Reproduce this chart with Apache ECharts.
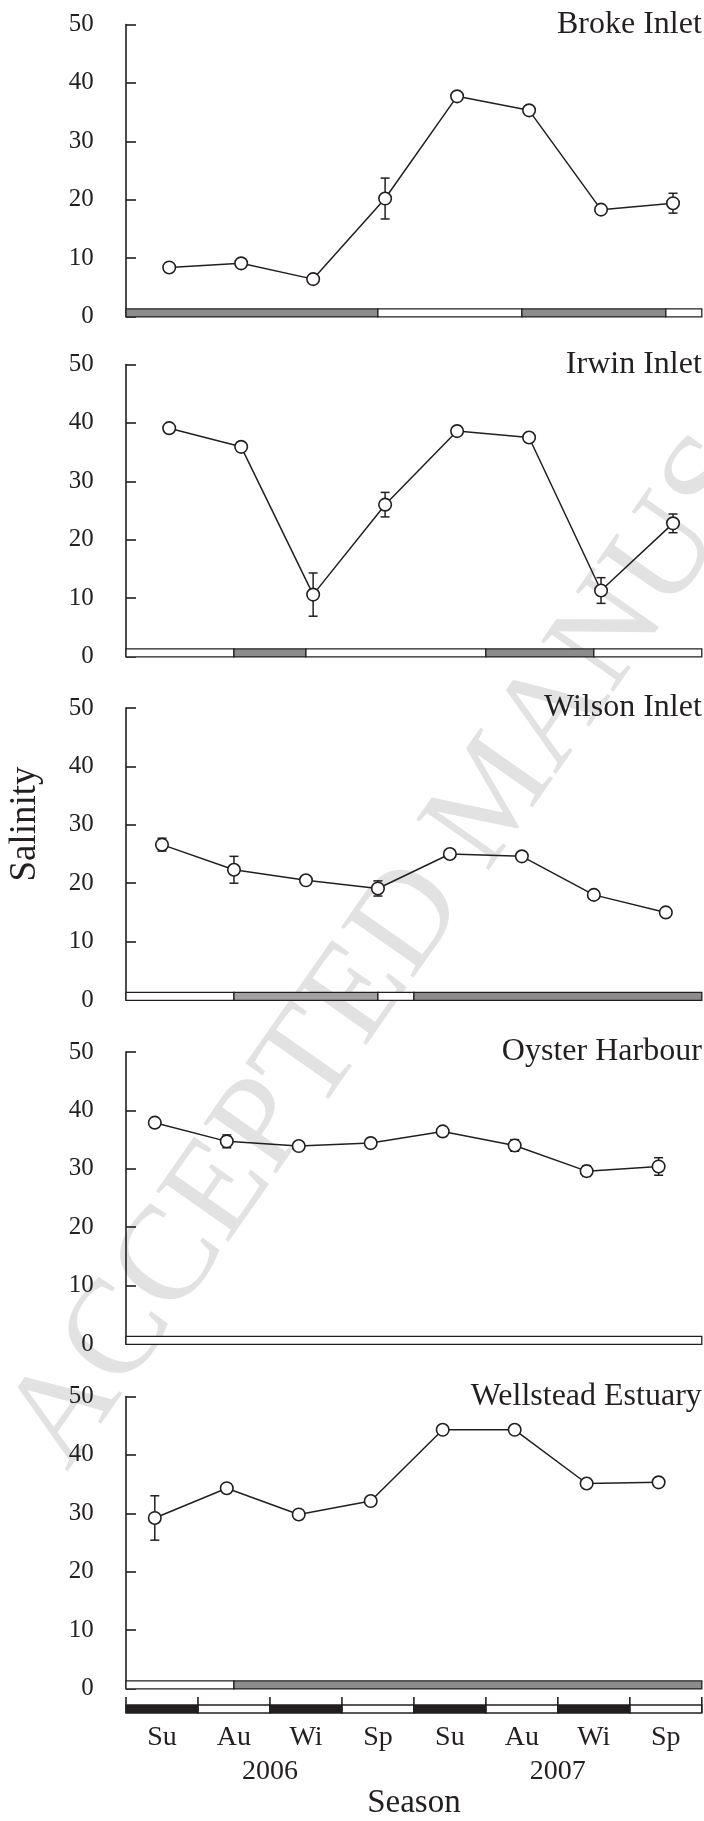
<!DOCTYPE html>
<html><head><meta charset="utf-8">
<script src="https://cdn.jsdelivr.net/npm/echarts@6/dist/echarts.min.js"></script>
<style>html,body{margin:0;padding:0;background:#fff}#c{width:704px;height:1821px}</style>
</head><body><div id="c"></div>
<script>
// ---------- data ----------
const seasons = ['Su','Au','Wi','Sp','Su','Au','Wi','Sp'];
const seasonShade = ['dark','light','dark','light','dark','light','dark','light'];
const years = ['2006','2007'];
const estuaries = ['Broke Inlet','Irwin Inlet','Wilson Inlet','Oyster Harbour','Wellstead Estuary'];
const yTicks = [0, 10, 20, 30, 40, 50];

const brokeMean = [8.4, 9.1, 6.4, 20.2, 37.7, 35.3, 18.3, 19.4];
const brokeErr  = [0, 0, 0, 3.5, 0, 0, 0, 1.7];
const irwinMean = [39.1, 35.9, 10.6, 26.0, 38.6, 37.5, 11.3, 22.8];
const irwinErr  = [0, 0, 3.7, 2.1, 0, 0, 2.2, 1.6];
const wilsonMean = [26.6, 22.3, 20.5, 19.1, 25.0, 24.6, 18.0, 15.0];
const wilsonErr  = [1.1, 2.3, 0, 1.3, 0, 0, 0, 0];
const oysterMean = [37.9, 34.7, 33.9, 34.4, 36.4, 34.0, 29.6, 30.4];
const oysterErr  = [0, 1.1, 0, 0, 0, 1.0, 0.9, 1.5];
const wellsteadMean = [29.2, 34.3, 29.8, 32.1, 44.3, 44.3, 35.1, 35.3];
const wellsteadErr  = [3.8, 0.4, 0, 0, 0, 0.6, 0, 0.5];

// mouth status segments [start season index, end season index, state]  o=open, p=partially closed, c=closed
const brokeMouth = [[0, 3.5, 'c'], [3.5, 5.5, 'o'], [5.5, 7.5, 'c'], [7.5, 8, 'o']];
const irwinMouth = [[0, 1.5, 'o'], [1.5, 2.5, 'c'], [2.5, 5, 'o'], [5, 6.5, 'c'], [6.5, 8, 'o']];
const wilsonMouth = [[0, 1.5, 'o'], [1.5, 3.5, 'p'], [3.5, 4, 'o'], [4, 8, 'c']];
const oysterMouth = [[0, 8, 'o']];
const wellsteadMouth = [[0, 1.5, 'o'], [1.5, 8, 'c']];

const means = [brokeMean, irwinMean, wilsonMean, oysterMean, wellsteadMean];
const errs = [brokeErr, irwinErr, wilsonErr, oysterErr, wellsteadErr];
const mouths = [brokeMouth, irwinMouth, wilsonMouth, oysterMouth, wellsteadMouth];

// ---------- layout / style ----------
const INK = '#231f20';
const FONT = "'Liberation Serif', 'Times New Roman', serif";
const gridTops = [24.5, 364.5, 708, 1052, 1396.5];
const gridH = 292;
const gridLeft = 126, gridRight = 2.2;
const pointShift = [0.1, 0.1, 0, -0.1, -0.1];
const stateFill = { o: '#ffffff', p: '#a2a2a2', c: '#8c8c8c' };

const grid = [], xAxis = [], yAxis = [], series = [], title = [];

function errRender(params, api) {
  const x = api.value(0), lo = api.value(1), hi = api.value(2);
  const a = api.coord([x, hi]), b = api.coord([x, lo]);
  const w = 4.5, st = { stroke: INK, lineWidth: 1.5 };
  return { type: 'group', children: [
    { type: 'line', shape: { x1: a[0], y1: a[1], x2: b[0], y2: b[1] }, style: st },
    { type: 'line', shape: { x1: a[0] - w, y1: a[1], x2: a[0] + w, y2: a[1] }, style: st },
    { type: 'line', shape: { x1: b[0] - w, y1: b[1], x2: b[0] + w, y2: b[1] }, style: st }
  ]};
}

estuaries.forEach((name, g) => {
  grid.push({ left: gridLeft, right: gridRight, top: gridTops[g], height: gridH, outerBoundsMode: 'none', containLabel: false });
  // band axis (season boundaries 0..8)
  xAxis.push({ type: 'value', gridIndex: g, min: 0, max: 8, show: false });
  // point axis (season index, shifted per panel)
  xAxis.push({ type: 'value', gridIndex: g, min: -0.5 - pointShift[g], max: 7.5 - pointShift[g], show: false });
  yAxis.push({
    type: 'value', gridIndex: g, min: yTicks[0], max: yTicks[yTicks.length - 1], interval: 10, offset: 15.3,
    axisLine: { show: true, lineStyle: { color: INK, width: 1.6 } },
    axisTick: { show: true, inside: true, length: 10, lineStyle: { color: INK, width: 1.6 } },
    axisLabel: { margin: 17, fontFamily: FONT, fontSize: 25, color: INK },
    splitLine: { show: false }
  });
  title.push({
    text: name, right: gridRight, top: gridTops[g] - 16, padding: 0,
    textStyle: { fontFamily: FONT, fontSize: 32, fontWeight: 'normal', color: INK }
  });
  const segs = mouths[g];
  series.push({
    type: 'custom', xAxisIndex: 2 * g, yAxisIndex: g, silent: true, z: 2,
    data: segs.map(s => [s[0], 0, s[1]]),
    encode: { x: [0, 2], y: 1 },
    renderItem: (params, api) => {
      const p0 = api.coord([api.value(0), 0]);
      const p1 = api.coord([api.value(2), 0]);
      return { type: 'rect', shape: { x: p0[0], y: p0[1] - 7.6, width: p1[0] - p0[0], height: 8 },
        style: { fill: stateFill[segs[params.dataIndex][2]], stroke: INK, lineWidth: 1.3 } };
    }
  });
  const m = means[g], e = errs[g];
  series.push({
    type: 'custom', xAxisIndex: 2 * g + 1, yAxisIndex: g, silent: true, z: 3,
    data: m.map((v, i) => [i, v - e[i], v + e[i]]).filter((d, i) => e[i] > 0),
    encode: { x: 0, y: [1, 2] },
    renderItem: errRender
  });
  series.push({
    type: 'line', xAxisIndex: 2 * g + 1, yAxisIndex: g, silent: true, z: 4,
    data: m.map((v, i) => [i, v]),
    symbol: 'circle', symbolSize: 12.5, showSymbol: true,
    itemStyle: { color: '#ffffff', borderColor: INK, borderWidth: 1.6 },
    lineStyle: { color: INK, width: 1.5 }
  });
});

// season strip grid
const sg = estuaries.length;
grid.push({ left: gridLeft, right: gridRight, top: 1697, height: 16, outerBoundsMode: 'none', containLabel: false });
xAxis.push({ type: 'value', gridIndex: sg, min: 0, max: 8, show: false });
xAxis.push({
  type: 'category', gridIndex: sg, position: 'bottom', data: seasons, boundaryGap: true,
  axisLine: { show: false }, axisTick: { show: false }, splitLine: { show: false },
  axisLabel: { margin: 11, fontFamily: FONT, fontSize: 28, color: INK, interval: 0 }
});
xAxis.push({
  type: 'category', gridIndex: sg, position: 'bottom', data: years, boundaryGap: true,
  axisLine: { show: false }, axisTick: { show: false }, splitLine: { show: false },
  axisLabel: { margin: 45, fontFamily: FONT, fontSize: 28, color: INK, interval: 0 },
  name: 'Season', nameLocation: 'middle', nameGap: 74, nameMoveOverlap: false,
  nameTextStyle: { fontFamily: FONT, fontSize: 33, color: INK }
});
yAxis.push({ type: 'value', gridIndex: sg, min: 0, max: 1, show: false });
series.push({
  type: 'custom', xAxisIndex: 2 * sg, yAxisIndex: sg, silent: true, z: 2,
  data: seasons.map((s, i) => [i, 0, i + 1]),
  encode: { x: [0, 2], y: 1 },
  renderItem: (params, api) => {
    const i = params.dataIndex;
    const p0 = api.coord([api.value(0), 0]);
    const p1 = api.coord([api.value(2), 0]);
    const top = api.coord([api.value(0), 1]);
    const children = [
      { type: 'rect', shape: { x: p0[0], y: p0[1] - 8, width: p1[0] - p0[0], height: 8 },
        style: { fill: seasonShade[i] === 'dark' ? INK : '#ffffff', stroke: INK, lineWidth: 1.3 } },
      { type: 'line', shape: { x1: p0[0], y1: top[1], x2: p0[0], y2: p0[1] }, style: { stroke: INK, lineWidth: 1.6 } }
    ];
    if (i === seasons.length - 1) {
      children.push({ type: 'line', shape: { x1: p1[0], y1: top[1], x2: p1[0], y2: p1[1] }, style: { stroke: INK, lineWidth: 1.6 } });
    }
    return { type: 'group', children };
  }
});

const chart = echarts.init(document.getElementById('c'), null, { renderer: 'canvas' });
chart.setOption({
  animation: false,
  backgroundColor: '#ffffff',
  title, grid, xAxis, yAxis, series,
  graphic: { elements: [
    { type: 'text', x: 38, y: 1452, rotation: 55 * Math.PI / 180, z: -1, silent: true,
      style: { text: 'ACCEPTED MANUSCRIPT', font: "135px 'Liberation Serif'", fill: '#e2e2e2', align: 'left', verticalAlign: 'middle' } },
    { type: 'text', x: 25.4, y: 824, rotation: Math.PI / 2, silent: true,
      style: { text: 'Salinity', font: "37px 'Liberation Serif'", fill: INK, align: 'center', verticalAlign: 'middle' } }
  ]}
});
</script></body></html>
